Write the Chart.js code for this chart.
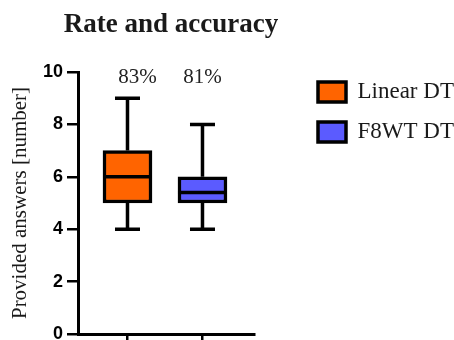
<!DOCTYPE html>
<html><head><meta charset="utf-8">
<script src="https://cdn.jsdelivr.net/npm/chart.js@4"></script>
<style>html,body{margin:0;padding:0;background:#fff;} canvas{display:block;}</style>
</head><body>
<canvas id="c" width="454" height="340"></canvas>
<script>
const categories = ['Linear DT', 'F8WT DT'];
const whiskerMin = [4, 4];
const quartile1 = [5, 5];
const medians = [6, 5.4];
const quartile3 = [7, 6];
const whiskerMax = [9, 8];
const accuracy = ['83%', '81%'];
const yTicks = [0, 2, 4, 6, 8, 10];
const colors = ['#FF6400', '#5B5BFF'];

const datasets = categories.map((name, i) => ({
  label: name,
  data: [{x: i, y: [quartile1[i], quartile3[i]]}],
  backgroundColor: colors[i],
  borderColor: '#000',
  borderWidth: 3.5,
  borderSkipped: false,
  barThickness: 49,
  grouped: false
}));

const boxPlugin = {
  id: 'boxExtras',
  afterLayout(chart, args, opts) {
    // widen the title block so its text is not squeezed, centred a bit right of the plot
    const t = chart.titleBlock;
    if (t) {
      const c = (chart.chartArea.left + chart.chartArea.right) / 2 + opts.titleShift;
      t.left = c - 150; t.right = c + 150; t.width = 300;
    }
  },
  afterDatasetsDraw(chart, args, opts) {
    const ctx = chart.ctx;
    const y = chart.scales.y;
    ctx.save();
    ctx.strokeStyle = '#000';
    ctx.lineWidth = 3.5;
    ctx.lineCap = 'butt';
    categories.forEach((c, i) => {
      const bar = chart.getDatasetMeta(i).data[0];
      const cx = bar.x, half = bar.width / 2, capHalf = 12.5;
      const yMax = y.getPixelForValue(whiskerMax[i]);
      const yQ3 = y.getPixelForValue(quartile3[i]);
      const yMin = y.getPixelForValue(whiskerMin[i]);
      const yQ1 = y.getPixelForValue(quartile1[i]);
      const yMed = y.getPixelForValue(medians[i]);
      ctx.beginPath();
      ctx.moveTo(cx, yQ3); ctx.lineTo(cx, yMax);
      ctx.moveTo(cx, yQ1); ctx.lineTo(cx, yMin);
      ctx.moveTo(cx - capHalf, yMax); ctx.lineTo(cx + capHalf, yMax);
      ctx.moveTo(cx - capHalf, yMin); ctx.lineTo(cx + capHalf, yMin);
      ctx.moveTo(cx - half, yMed); ctx.lineTo(cx + half, yMed);
      ctx.stroke();
      ctx.fillStyle = '#222';
      ctx.font = '21px "Liberation Serif"';
      ctx.textAlign = 'center';
      ctx.textBaseline = 'alphabetic';
      ctx.fillText(accuracy[i], cx + opts.labelShift[i], chart.chartArea.top + 11);
    });
    ctx.restore();
  }
};

new Chart(document.getElementById('c'), {
  type: 'bar',
  data: { datasets },
  plugins: [boxPlugin],
  options: {
    responsive: false,
    animation: false,
    devicePixelRatio: 1,
    layout: { padding: 0 },
    plugins: {
      boxExtras: { labelShift: [10, 0], titleShift: 5 },
      tooltip: { enabled: false },
      title: {
        display: true,
        text: 'Rate and accuracy',
        position: 'top',
        fullSize: false,
        color: '#1a1a1a',
        font: { family: '"Liberation Serif"', size: 27, weight: 'bold', lineHeight: 1.2 },
        padding: { top: 8.8, bottom: 30.8 }
      },
      legend: {
        position: 'right',
        align: 'start',
        maxWidth: 153,
        title: { display: true, text: ' ', font: { size: 10, lineHeight: 1.2 }, padding: { top: 51.5, bottom: 0 } },
        labels: {
          boxWidth: 28,
          boxHeight: 20,
          padding: 17,
          color: '#1a1a1a',
          font: { family: '"Liberation Serif"', size: 23 }
        }
      }
    },
    scales: {
      x: {
        type: 'linear',
        min: -0.66,
        max: 1.687,
        offset: false,
        afterBuildTicks(s) { s.ticks = categories.map((c, i) => ({ value: i })); },
        afterFit(s) { s.height = 6; s.paddingLeft = 0; s.paddingRight = 0; },
        ticks: { display: false },
        grid: { offset: false, drawOnChartArea: false, color: '#000', lineWidth: 2.5, tickLength: 10 },
        border: { color: '#000', width: 3 }
      },
      y: {
        type: 'linear',
        position: 'left',
        min: 0,
        max: 10,
        afterBuildTicks(s) { s.ticks = yTicks.map(v => ({ value: v })); },
        afterFit(s) { s.width = 78; s.paddingTop = 0; s.paddingBottom = 0; },
        ticks: {
          color: '#000',
          padding: 4,
          font: { family: '"Liberation Sans"', size: 18, weight: 'bold' }
        },
        grid: { drawOnChartArea: false, color: '#000', lineWidth: 2.5, tickLength: 11 },
        border: { color: '#000', width: 3 },
        title: {
          display: true,
          text: 'Provided answers [number]',
          color: '#1a1a1a',
          font: { family: '"Liberation Serif"', size: 21, lineHeight: 1.2 },
          padding: { top: 8, bottom: 0 }
        }
      },
      yRight: {
        type: 'linear',
        position: 'right',
        display: true,
        afterFit(s) { s.width = 47; s.paddingTop = 0; s.paddingBottom = 0; },
        ticks: { display: false },
        grid: { display: false },
        border: { display: false }
      }
    }
  }
});
</script>
</body></html>
